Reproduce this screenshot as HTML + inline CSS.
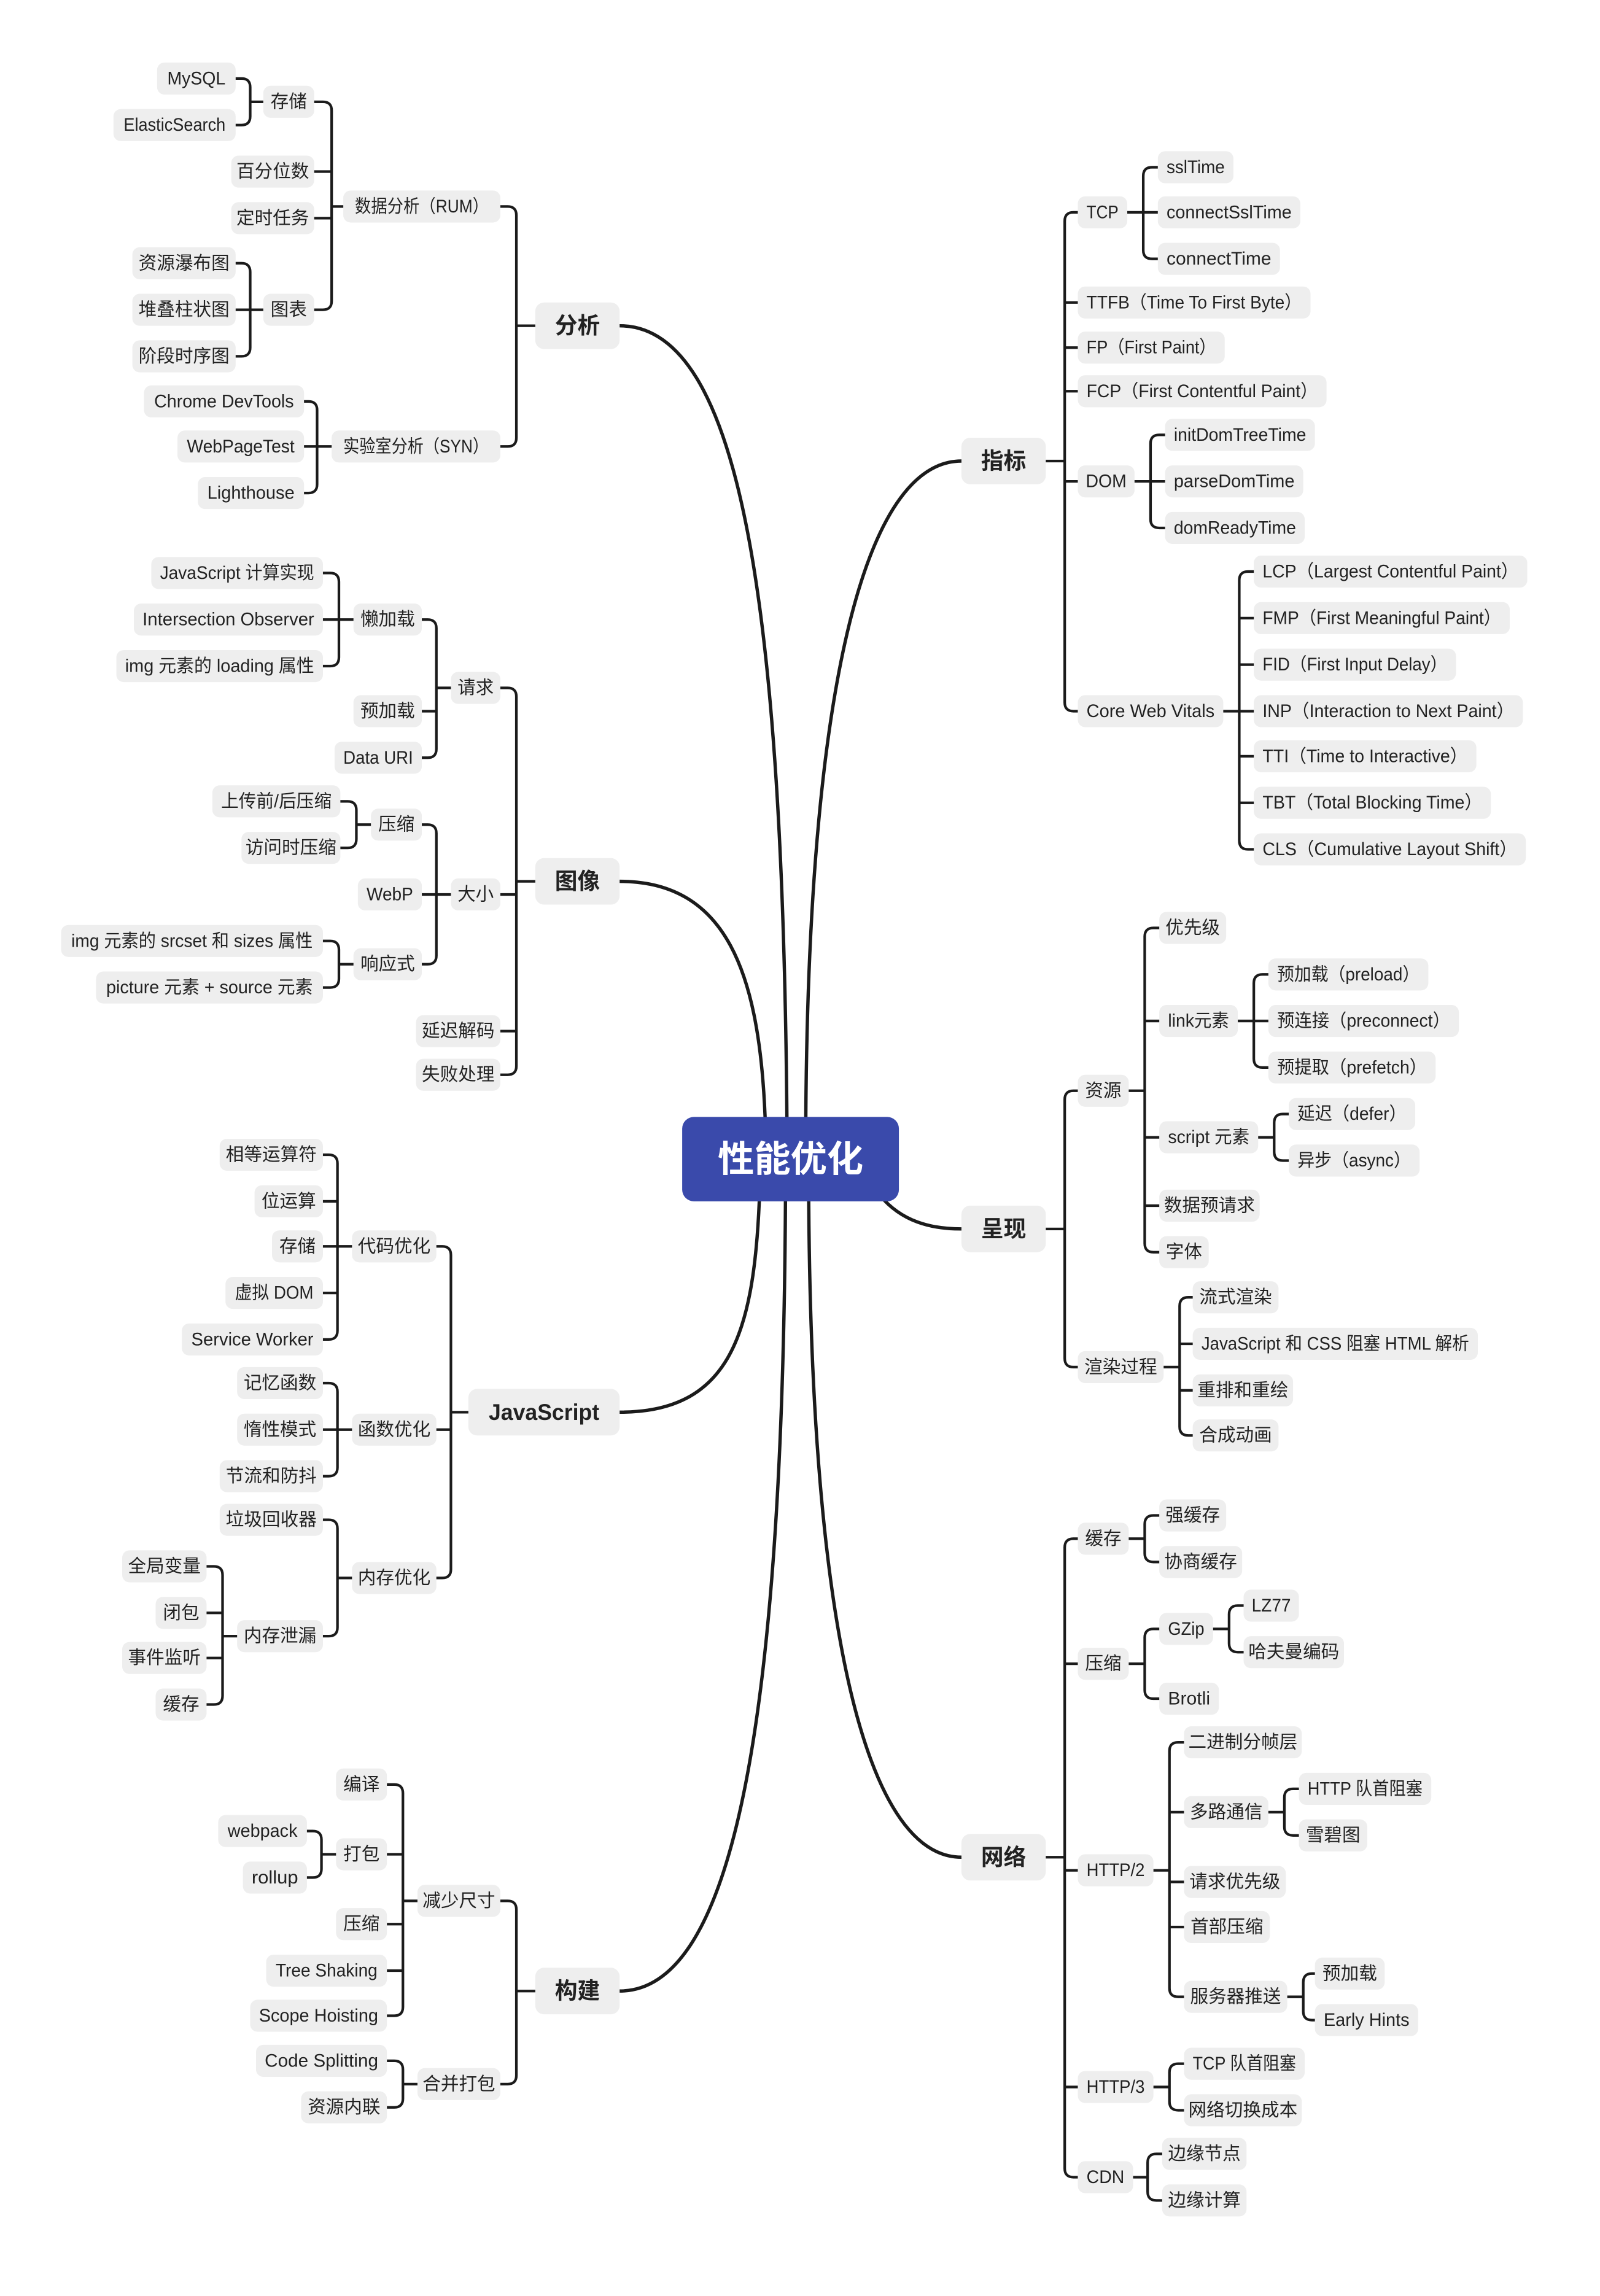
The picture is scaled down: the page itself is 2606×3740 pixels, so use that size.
<!DOCTYPE html>
<html><head><meta charset="utf-8"><style>
html,body{margin:0;padding:0;background:#fff}
svg{display:block}
text{font-family:"Liberation Sans","Noto Sans CJK SC",sans-serif;font-size:12.5px;fill:#222;text-anchor:middle;dominant-baseline:central}
rect{fill:#eeeeee}
.m{font-size:15.5px;font-weight:bold}
.c{font-size:25px;font-weight:bold;fill:#fff}
path{fill:none;stroke:#1b1b1b;stroke-width:1.8;stroke-linecap:round}
.b{stroke-width:2.3}
</style></head><body>
<svg width="2606" height="3740" viewBox="0 0 1100 1578.7" xmlns="http://www.w3.org/2000/svg">
<!-- main curves -->
<path class="b" d="M541,768 C538,420 510,224 426,224"/>
<path class="b" d="M526,768 C522,670 500,606 426,606"/>
<path class="b" d="M522,826 C518,920 500,971 426,971"/>
<path class="b" d="M540,826 C538,1180 505,1369 426,1369"/>
<path class="b" d="M554,768 C556,450 600,317 661,317"/>
<path class="b" d="M605,822 C620,840 640,845 661,845"/>
<path class="b" d="M556,826 C558,1140 600,1277 661,1277"/>
<!-- left connectors -->
<path d="M344,142 H349 Q355,142 355,148 V301 Q355,307 349,307 H344 M355,224 H368"/>
<path d="M216,70 H222 Q228,70 228,76 V207 Q228,213 222,213 H216 M216,118 H228 M216,150 H228 M228,142 H236"/>
<path d="M162,54 H166 Q172,54 172,60 V80 Q172,86 166,86 H162 M172,70 H181"/>
<path d="M162,181 H166 Q172,181 172,187 V239 Q172,245 166,245 H162 M162,213 H181"/>
<path d="M209,276 H212 Q218,276 218,282 V333 Q218,339 212,339 H209 M209,307 H228"/>
<path d="M344,473 H349 Q355,473 355,479 V733 Q355,739 349,739 H344 M344,615 H355 M344,709 H355 M355,606 H368"/>
<path d="M290,426 H294 Q300,426 300,432 V515 Q300,521 294,521 H290 M290,489 H300 M300,473 H310"/>
<path d="M222,394 H227 Q233,394 233,400 V452 Q233,458 227,458 H222 M222,426 H243"/>
<path d="M290,567 H294 Q300,567 300,573 V657 Q300,663 294,663 H290 M290,615 H310"/>
<path d="M234,551 H239 Q245,551 245,557 V577 Q245,583 239,583 H234 M245,567 H255"/>
<path d="M222,647 H227 Q233,647 233,653 V673 Q233,679 227,679 H222 M233,663 H243"/>
<path d="M300,857 H304 Q310,857 310,863 V1079 Q310,1085 304,1085 H300 M300,983 H310 M310,971 H322"/>
<path d="M222,794 H226 Q232,794 232,800 V915 Q232,921 226,921 H222 M222,826 H232 M222,857 H242 M222,889 H232"/>
<path d="M222,951 H226 Q232,951 232,957 V1009 Q232,1015 226,1015 H222 M222,983 H242"/>
<path d="M222,1045 H226 Q232,1045 232,1051 V1119 Q232,1125 226,1125 H222 M232,1085 H242"/>
<path d="M142,1077 H147 Q153,1077 153,1083 V1166 Q153,1172 147,1172 H142 M142,1109 H153 M142,1140 H153 M153,1125 H163"/>
<path d="M344,1307 H349 Q355,1307 355,1313 V1427 Q355,1433 349,1433 H344 M355,1369 H368"/>
<path d="M266,1227 H271 Q277,1227 277,1233 V1380 Q277,1386 271,1386 H266 M266,1275 H277 M266,1323 H277 M266,1355 H277 M277,1307 H287"/>
<path d="M211,1259 H215 Q221,1259 221,1265 V1285 Q221,1291 215,1291 H211 M221,1275 H231"/>
<path d="M266,1417 H271 Q277,1417 277,1423 V1443 Q277,1449 271,1449 H266 M277,1433 H287"/>
<!-- right connectors -->
<path d="M741,146 H738 Q732,146 732,152 V483 Q732,489 738,489 H741 M732,208 H741 M732,239 H741 M732,269 H741 M732,331 H741 M719,317 H732"/>
<path d="M796,115 H792 Q786,115 786,121 V172 Q786,178 792,178 H796 M775,146 H796"/>
<path d="M801,299 H797 Q791,299 791,305 V357 Q791,363 797,363 H801 M780,331 H801"/>
<path d="M862,393 H858 Q852,393 852,399 V578 Q852,584 858,584 H862 M852,425 H862 M852,457 H862 M841,489 H862 M852,520 H862 M852,552 H862"/>
<path d="M741,750 H738 Q732,750 732,756 V934 Q732,940 738,940 H741 M719,845 H732"/>
<path d="M797,638 H793 Q787,638 787,644 V855 Q787,861 793,861 H797 M787,702 H797 M776,750 H787 M787,782 H797 M787,829 H797"/>
<path d="M872,670 H868 Q862,670 862,676 V728 Q862,734 868,734 H872 M851,702 H872"/>
<path d="M886,766 H882 Q876,766 876,772 V792 Q876,798 882,798 H886 M865,782 H876"/>
<path d="M820,892 H817 Q811,892 811,898 V981 Q811,987 817,987 H820 M811,924 H820 M800,940 H811 M811,956 H820"/>
<path d="M741,1058 H738 Q732,1058 732,1064 V1491 Q732,1497 738,1497 H741 M732,1144 H741 M732,1286 H741 M732,1435 H741 M719,1277 H732"/>
<path d="M797,1042 H793 Q787,1042 787,1048 V1068 Q787,1074 793,1074 H797 M776,1058 H787"/>
<path d="M797,1120 H793 Q787,1120 787,1126 V1162 Q787,1168 793,1168 H797 M776,1144 H787"/>
<path d="M855,1104 H851 Q845,1104 845,1110 V1130 Q845,1136 851,1136 H855 M834,1120 H845"/>
<path d="M814,1198 H810 Q804,1198 804,1204 V1367 Q804,1373 810,1373 H814 M804,1246 H814 M793,1286 H804 M804,1294 H814 M804,1325 H814"/>
<path d="M893,1230 H889 Q883,1230 883,1236 V1256 Q883,1262 889,1262 H893 M872,1246 H883"/>
<path d="M904,1357 H902 Q896,1357 896,1363 V1383 Q896,1389 902,1389 H904 M885,1373 H896"/>
<path d="M814,1419 H810 Q804,1419 804,1425 V1445 Q804,1451 810,1451 H814 M793,1435 H804"/>
<path d="M799,1481 H795 Q789,1481 789,1487 V1507 Q789,1513 795,1513 H799 M779,1497 H789"/>

<!-- center -->
<rect x="469" y="768" width="149" height="58" rx="8" style="fill:#3a4aab"/>
<text class="c" x="543.5" y="797" textLength="100" lengthAdjust="spacingAndGlyphs">性能优化</text>

<!-- main branches -->
<rect x="368" y="208" width="58" height="32" rx="6"/><text class="m" x="397" y="224">分析</text>
<rect x="368" y="590" width="58" height="32" rx="6"/><text class="m" x="397" y="606">图像</text>
<rect x="322" y="955" width="104" height="32" rx="6"/><text class="m" x="374" y="971" textLength="76" lengthAdjust="spacingAndGlyphs">JavaScript</text>
<rect x="368" y="1353" width="58" height="32" rx="6"/><text class="m" x="397" y="1369">构建</text>
<rect x="661" y="301" width="58" height="32" rx="6"/><text class="m" x="690" y="317">指标</text>
<rect x="661" y="829" width="58" height="32" rx="6"/><text class="m" x="690" y="845">呈现</text>
<rect x="661" y="1261" width="58" height="32" rx="6"/><text class="m" x="690" y="1277">网络</text>

<!-- 分析 -->
<rect x="236" y="131" width="108" height="22" rx="5"/><text x="290" y="142" textLength="92" lengthAdjust="spacingAndGlyphs">数据分析（RUM）</text>
<rect x="181" y="59" width="35" height="22" rx="5"/><text x="198.5" y="70">存储</text>
<rect x="108" y="43" width="54" height="22" rx="5"/><text x="135" y="54" textLength="40" lengthAdjust="spacingAndGlyphs">MySQL</text>
<rect x="78" y="75" width="84" height="22" rx="5"/><text x="120" y="86" textLength="70" lengthAdjust="spacingAndGlyphs">ElasticSearch</text>
<rect x="159" y="107" width="57" height="22" rx="5"/><text x="187.5" y="118">百分位数</text>
<rect x="159" y="139" width="57" height="22" rx="5"/><text x="187.5" y="150">定时任务</text>
<rect x="181" y="202" width="35" height="22" rx="5"/><text x="198.5" y="213">图表</text>
<rect x="91" y="170" width="71" height="22" rx="5"/><text x="126.5" y="181">资源瀑布图</text>
<rect x="91" y="202" width="71" height="22" rx="5"/><text x="126.5" y="213">堆叠柱状图</text>
<rect x="91" y="234" width="71" height="22" rx="5"/><text x="126.5" y="245">阶段时序图</text>
<rect x="228" y="296" width="116" height="22" rx="5"/><text x="286" y="307" textLength="100" lengthAdjust="spacingAndGlyphs">实验室分析（SYN）</text>
<rect x="99" y="265" width="110" height="22" rx="5"/><text x="154" y="276" textLength="96" lengthAdjust="spacingAndGlyphs">Chrome DevTools</text>
<rect x="122" y="296" width="87" height="22" rx="5"/><text x="165.5" y="307" textLength="74" lengthAdjust="spacingAndGlyphs">WebPageTest</text>
<rect x="136" y="328" width="73" height="22" rx="5"/><text x="172.5" y="339" textLength="60" lengthAdjust="spacingAndGlyphs">Lighthouse</text>

<!-- 图像 -->
<rect x="310" y="462" width="34" height="22" rx="5"/><text x="327" y="473">请求</text>
<rect x="243" y="415" width="47" height="22" rx="5"/><text x="266.5" y="426">懒加载</text>
<rect x="104" y="383" width="118" height="22" rx="5"/><text x="163" y="394" textLength="106" lengthAdjust="spacingAndGlyphs">JavaScript 计算实现</text>
<rect x="92" y="415" width="130" height="22" rx="5"/><text x="157" y="426" textLength="118" lengthAdjust="spacingAndGlyphs">Intersection Observer</text>
<rect x="80" y="447" width="142" height="22" rx="5"/><text x="151" y="458" textLength="130" lengthAdjust="spacingAndGlyphs">img 元素的 loading 属性</text>
<rect x="243" y="478" width="47" height="22" rx="5"/><text x="266.5" y="489">预加载</text>
<rect x="230" y="510" width="60" height="22" rx="5"/><text x="260" y="521" textLength="48" lengthAdjust="spacingAndGlyphs">Data URI</text>
<rect x="310" y="604" width="34" height="22" rx="5"/><text x="327" y="615">大小</text>
<rect x="255" y="556" width="35" height="22" rx="5"/><text x="272.5" y="567">压缩</text>
<rect x="146" y="540" width="88" height="22" rx="5"/><text x="190" y="551" textLength="76" lengthAdjust="spacingAndGlyphs">上传前/后压缩</text>
<rect x="166" y="572" width="68" height="22" rx="5"/><text x="200" y="583">访问时压缩</text>
<rect x="246" y="604" width="44" height="22" rx="5"/><text x="268" y="615" textLength="32" lengthAdjust="spacingAndGlyphs">WebP</text>
<rect x="243" y="652" width="47" height="22" rx="5"/><text x="266.5" y="663">响应式</text>
<rect x="42" y="636" width="180" height="22" rx="5"/><text x="132" y="647" textLength="166" lengthAdjust="spacingAndGlyphs">img 元素的 srcset 和 sizes 属性</text>
<rect x="66" y="668" width="156" height="22" rx="5"/><text x="144" y="679" textLength="142" lengthAdjust="spacingAndGlyphs">picture 元素 + source 元素</text>
<rect x="286" y="698" width="58" height="22" rx="5"/><text x="315" y="709">延迟解码</text>
<rect x="286" y="728" width="58" height="22" rx="5"/><text x="315" y="739">失败处理</text>

<!-- JavaScript -->
<rect x="242" y="846" width="58" height="22" rx="5"/><text x="271" y="857">代码优化</text>
<rect x="151" y="783" width="71" height="22" rx="5"/><text x="186.5" y="794">相等运算符</text>
<rect x="175" y="815" width="47" height="22" rx="5"/><text x="198.5" y="826">位运算</text>
<rect x="187" y="846" width="35" height="22" rx="5"/><text x="204.5" y="857">存储</text>
<rect x="155" y="878" width="67" height="22" rx="5"/><text x="188.5" y="889" textLength="54" lengthAdjust="spacingAndGlyphs">虚拟 DOM</text>
<rect x="125" y="910" width="97" height="22" rx="5"/><text x="173.5" y="921" textLength="84" lengthAdjust="spacingAndGlyphs">Service Worker</text>
<rect x="242" y="972" width="58" height="22" rx="5"/><text x="271" y="983">函数优化</text>
<rect x="163" y="940" width="59" height="22" rx="5"/><text x="192.5" y="951">记忆函数</text>
<rect x="163" y="972" width="59" height="22" rx="5"/><text x="192.5" y="983">惰性模式</text>
<rect x="151" y="1004" width="71" height="22" rx="5"/><text x="186.5" y="1015">节流和防抖</text>
<rect x="242" y="1074" width="58" height="22" rx="5"/><text x="271" y="1085">内存优化</text>
<rect x="151" y="1034" width="71" height="22" rx="5"/><text x="186.5" y="1045">垃圾回收器</text>
<rect x="163" y="1114" width="59" height="22" rx="5"/><text x="192.5" y="1125">内存泄漏</text>
<rect x="84" y="1066" width="58" height="22" rx="5"/><text x="113" y="1077">全局变量</text>
<rect x="107" y="1098" width="35" height="22" rx="5"/><text x="124.5" y="1109">闭包</text>
<rect x="84" y="1129" width="58" height="22" rx="5"/><text x="113" y="1140">事件监听</text>
<rect x="107" y="1161" width="35" height="22" rx="5"/><text x="124.5" y="1172">缓存</text>

<!-- 构建 -->
<rect x="287" y="1296" width="57" height="22" rx="5"/><text x="315.5" y="1307">减少尺寸</text>
<rect x="231" y="1216" width="35" height="22" rx="5"/><text x="248.5" y="1227">编译</text>
<rect x="231" y="1264" width="35" height="22" rx="5"/><text x="248.5" y="1275">打包</text>
<rect x="150" y="1248" width="61" height="22" rx="5"/><text x="180.5" y="1259" textLength="48" lengthAdjust="spacingAndGlyphs">webpack</text>
<rect x="167" y="1280" width="44" height="22" rx="5"/><text x="189" y="1291" textLength="32" lengthAdjust="spacingAndGlyphs">rollup</text>
<rect x="231" y="1312" width="35" height="22" rx="5"/><text x="248.5" y="1323">压缩</text>
<rect x="183" y="1344" width="83" height="22" rx="5"/><text x="224.5" y="1355" textLength="70" lengthAdjust="spacingAndGlyphs">Tree Shaking</text>
<rect x="172" y="1375" width="94" height="22" rx="5"/><text x="219" y="1386" textLength="82" lengthAdjust="spacingAndGlyphs">Scope Hoisting</text>
<rect x="287" y="1422" width="57" height="22" rx="5"/><text x="315.5" y="1433">合并打包</text>
<rect x="176" y="1406" width="90" height="22" rx="5"/><text x="221" y="1417" textLength="78" lengthAdjust="spacingAndGlyphs">Code Splitting</text>
<rect x="207" y="1438" width="59" height="22" rx="5"/><text x="236.5" y="1449">资源内联</text>

<!-- 指标 -->
<rect x="741" y="135" width="34" height="22" rx="5"/><text x="758" y="146" textLength="22" lengthAdjust="spacingAndGlyphs">TCP</text>
<rect x="796" y="104" width="52" height="22" rx="5"/><text x="822" y="115" textLength="40" lengthAdjust="spacingAndGlyphs">sslTime</text>
<rect x="796" y="135" width="98" height="22" rx="5"/><text x="845" y="146" textLength="86" lengthAdjust="spacingAndGlyphs">connectSslTime</text>
<rect x="796" y="167" width="84" height="22" rx="5"/><text x="838" y="178" textLength="72" lengthAdjust="spacingAndGlyphs">connectTime</text>
<rect x="741" y="197" width="160" height="22" rx="5"/><text x="821" y="208" textLength="148" lengthAdjust="spacingAndGlyphs">TTFB（Time To First Byte）</text>
<rect x="741" y="228" width="101" height="22" rx="5"/><text x="791.5" y="239" textLength="89" lengthAdjust="spacingAndGlyphs">FP（First Paint）</text>
<rect x="741" y="258" width="171" height="22" rx="5"/><text x="826.5" y="269" textLength="159" lengthAdjust="spacingAndGlyphs">FCP（First Contentful Paint）</text>
<rect x="741" y="320" width="39" height="22" rx="5"/><text x="760.5" y="331" textLength="28" lengthAdjust="spacingAndGlyphs">DOM</text>
<rect x="801" y="288" width="103" height="22" rx="5"/><text x="852.5" y="299" textLength="91" lengthAdjust="spacingAndGlyphs">initDomTreeTime</text>
<rect x="801" y="320" width="95" height="22" rx="5"/><text x="848.5" y="331" textLength="83" lengthAdjust="spacingAndGlyphs">parseDomTime</text>
<rect x="801" y="352" width="96" height="22" rx="5"/><text x="849" y="363" textLength="84" lengthAdjust="spacingAndGlyphs">domReadyTime</text>
<rect x="741" y="478" width="100" height="22" rx="5"/><text x="791" y="489" textLength="88" lengthAdjust="spacingAndGlyphs">Core Web Vitals</text>
<rect x="862" y="382" width="188" height="22" rx="5"/><text x="956" y="393" textLength="176" lengthAdjust="spacingAndGlyphs">LCP（Largest Contentful Paint）</text>
<rect x="862" y="414" width="176" height="22" rx="5"/><text x="950" y="425" textLength="164" lengthAdjust="spacingAndGlyphs">FMP（First Meaningful Paint）</text>
<rect x="862" y="446" width="139" height="22" rx="5"/><text x="931.5" y="457" textLength="127" lengthAdjust="spacingAndGlyphs">FID（First Input Delay）</text>
<rect x="862" y="478" width="185" height="22" rx="5"/><text x="954.5" y="489" textLength="173" lengthAdjust="spacingAndGlyphs">INP（Interaction to Next Paint）</text>
<rect x="862" y="509" width="153" height="22" rx="5"/><text x="938.5" y="520" textLength="141" lengthAdjust="spacingAndGlyphs">TTI（Time to Interactive）</text>
<rect x="862" y="541" width="163" height="22" rx="5"/><text x="943.5" y="552" textLength="151" lengthAdjust="spacingAndGlyphs">TBT（Total Blocking Time）</text>
<rect x="862" y="573" width="187" height="22" rx="5"/><text x="955.5" y="584" textLength="175" lengthAdjust="spacingAndGlyphs">CLS（Cumulative Layout Shift）</text>

<!-- 呈现 -->
<rect x="741" y="739" width="35" height="22" rx="5"/><text x="758.5" y="750">资源</text>
<rect x="797" y="627" width="46" height="22" rx="5"/><text x="820" y="638">优先级</text>
<rect x="797" y="691" width="54" height="22" rx="5"/><text x="824" y="702" textLength="42" lengthAdjust="spacingAndGlyphs">link元素</text>
<rect x="872" y="659" width="110" height="22" rx="5"/><text x="927" y="670" textLength="98" lengthAdjust="spacingAndGlyphs">预加载（preload）</text>
<rect x="872" y="691" width="131" height="22" rx="5"/><text x="937.5" y="702" textLength="119" lengthAdjust="spacingAndGlyphs">预连接（preconnect）</text>
<rect x="872" y="723" width="115" height="22" rx="5"/><text x="929.5" y="734" textLength="103" lengthAdjust="spacingAndGlyphs">预提取（prefetch）</text>
<rect x="797" y="771" width="68" height="22" rx="5"/><text x="831" y="782" textLength="56" lengthAdjust="spacingAndGlyphs">script 元素</text>
<rect x="886" y="755" width="87" height="22" rx="5"/><text x="929.5" y="766" textLength="75" lengthAdjust="spacingAndGlyphs">延迟（defer）</text>
<rect x="886" y="787" width="90" height="22" rx="5"/><text x="931" y="798" textLength="78" lengthAdjust="spacingAndGlyphs">异步（async）</text>
<rect x="797" y="818" width="69" height="22" rx="5"/><text x="831.5" y="829">数据预请求</text>
<rect x="797" y="850" width="34" height="22" rx="5"/><text x="814" y="861">字体</text>
<rect x="741" y="929" width="59" height="22" rx="5"/><text x="770.5" y="940">渲染过程</text>
<rect x="820" y="881" width="59" height="22" rx="5"/><text x="849.5" y="892">流式渲染</text>
<rect x="820" y="913" width="196" height="22" rx="5"/><text x="918" y="924" textLength="184" lengthAdjust="spacingAndGlyphs">JavaScript 和 CSS 阻塞 HTML 解析</text>
<rect x="820" y="945" width="69" height="22" rx="5"/><text x="854.5" y="956">重排和重绘</text>
<rect x="820" y="976" width="59" height="22" rx="5"/><text x="849.5" y="987">合成动画</text>

<!-- 网络 -->
<rect x="741" y="1047" width="35" height="22" rx="5"/><text x="758.5" y="1058">缓存</text>
<rect x="797" y="1031" width="46" height="22" rx="5"/><text x="820" y="1042">强缓存</text>
<rect x="797" y="1063" width="57" height="22" rx="5"/><text x="825.5" y="1074">协商缓存</text>
<rect x="741" y="1133" width="35" height="22" rx="5"/><text x="758.5" y="1144">压缩</text>
<rect x="797" y="1109" width="37" height="22" rx="5"/><text x="815.5" y="1120" textLength="25" lengthAdjust="spacingAndGlyphs">GZip</text>
<rect x="855" y="1093" width="38" height="22" rx="5"/><text x="874" y="1104" textLength="27" lengthAdjust="spacingAndGlyphs">LZ77</text>
<rect x="855" y="1125" width="69" height="22" rx="5"/><text x="889.5" y="1136">哈夫曼编码</text>
<rect x="797" y="1157" width="41" height="22" rx="5"/><text x="817.5" y="1168" textLength="29" lengthAdjust="spacingAndGlyphs">Brotli</text>
<rect x="741" y="1275" width="52" height="22" rx="5"/><text x="767" y="1286" textLength="40" lengthAdjust="spacingAndGlyphs">HTTP/2</text>
<rect x="814" y="1187" width="81" height="22" rx="5"/><text x="854.5" y="1198">二进制分帧层</text>
<rect x="814" y="1235" width="58" height="22" rx="5"/><text x="843" y="1246">多路通信</text>
<rect x="893" y="1219" width="91" height="22" rx="5"/><text x="938.5" y="1230" textLength="79" lengthAdjust="spacingAndGlyphs">HTTP 队首阻塞</text>
<rect x="893" y="1251" width="47" height="22" rx="5"/><text x="916.5" y="1262">雪碧图</text>
<rect x="814" y="1283" width="70" height="22" rx="5"/><text x="849" y="1294">请求优先级</text>
<rect x="814" y="1314" width="59" height="22" rx="5"/><text x="843.5" y="1325">首部压缩</text>
<rect x="814" y="1362" width="71" height="22" rx="5"/><text x="849.5" y="1373">服务器推送</text>
<rect x="904" y="1346" width="48" height="22" rx="5"/><text x="928" y="1357">预加载</text>
<rect x="904" y="1378" width="71" height="22" rx="5"/><text x="939.5" y="1389" textLength="59" lengthAdjust="spacingAndGlyphs">Early Hints</text>
<rect x="741" y="1424" width="52" height="22" rx="5"/><text x="767" y="1435" textLength="40" lengthAdjust="spacingAndGlyphs">HTTP/3</text>
<rect x="814" y="1408" width="83" height="22" rx="5"/><text x="855.5" y="1419" textLength="71" lengthAdjust="spacingAndGlyphs">TCP 队首阻塞</text>
<rect x="814" y="1440" width="81" height="22" rx="5"/><text x="854.5" y="1451">网络切换成本</text>
<rect x="741" y="1486" width="38" height="22" rx="5"/><text x="760" y="1497" textLength="26" lengthAdjust="spacingAndGlyphs">CDN</text>
<rect x="799" y="1470" width="58" height="22" rx="5"/><text x="828" y="1481">边缘节点</text>
<rect x="799" y="1502" width="58" height="22" rx="5"/><text x="828" y="1513">边缘计算</text>
</svg>
</body></html>
